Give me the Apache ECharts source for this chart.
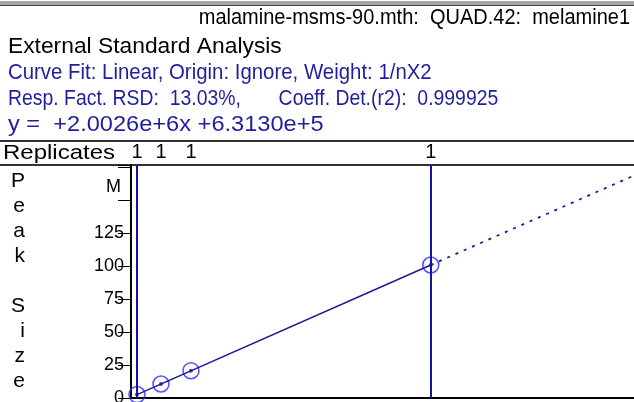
<!DOCTYPE html>
<html>
<head>
<meta charset="utf-8">
<script src="https://cdn.jsdelivr.net/npm/echarts@6/dist/echarts.min.js"></script>
<style>
  html, body { margin: 0; padding: 0; background: #fff; overflow: hidden; }
  #chart { width: 634px; height: 402px; }
</style>
</head>
<body>
<div id="chart"></div>
<script>
// calibration levels (amount) and peak size (M)
var levelX = [1, 5, 10, 50];
var levelY = [2.6, 10.6, 20.7, 100.8];
var replicates = ['1', '1', '1', '1'];
// fit line, solid over calibrated range, dashed beyond
var fitX = [1, 50];
var fitY = [2.6, 100.8];
var extX = [50, 83.9];
var extY = [100.8, 168.6];
var yTicks = [0, 25, 50, 75, 100, 125];

var headerLines = [
    'External Standard Analysis',
    'Curve Fit: Linear, Origin: Ignore, Weight: 1/nX2',
    'Resp. Fact. RSD:  13.03%,       Coeff. Det.(r2):  0.999925',
    'y =  +2.0026e+6x +6.3130e+5'
];
var headerColors = ['#000', '#1f1f9e', '#1f1f9e', '#1f1f9e'];
var headerStretch = [1.14, 1.02, 0.97, 1.18];

var FONT = '"Liberation Sans", Arial, sans-serif';
var navy = '#1a1a9c';

var chart = echarts.init(document.getElementById('chart'));

var graphics = [
    {type: 'rect', shape: {x: 0, y: 1, width: 634, height: 4}, style: {fill: '#a8a8a8'}},
    {type: 'line', shape: {x1: 0, y1: 5.5, x2: 634, y2: 5.5}, style: {stroke: '#444', lineWidth: 1}},
    {type: 'text', x: 630, y: 18, scaleY: 1.08, style: {text: 'malamine-msms-90.mth:  QUAD.42:  melamine1', font: '20px ' + FONT, fill: '#000', align: 'right', verticalAlign: 'middle'}},
    {type: 'line', shape: {x1: 0, y1: 141, x2: 634, y2: 141}, style: {stroke: '#333', lineWidth: 2}},
    {type: 'text', x: 3, y: 153, scaleX: 1.2, style: {text: 'Replicates', font: '20px ' + FONT, fill: '#000', verticalAlign: 'middle'}},
    {type: 'line', shape: {x1: 0, y1: 165, x2: 634, y2: 165}, style: {stroke: '#333', lineWidth: 2}},
    {type: 'text', x: 121, y: 187, style: {text: 'M', font: '18px ' + FONT, fill: '#000', align: 'right', verticalAlign: 'middle'}}
];
for (var i = 0; i < headerLines.length; i++) {
    graphics.push({type: 'text', x: 8, y: 47 + i * 26, scaleX: headerStretch[i], scaleY: 1.08, style: {
        text: headerLines[i], font: '20px ' + FONT, fill: headerColors[i], verticalAlign: 'middle'}});
}

var option = {
    animation: false,
    grid: {left: 131, right: 0, top: 165, bottom: 4, outerBoundsMode: 'none', containLabel: false},
    xAxis: [{
        type: 'value', min: 0, max: 83.9,
        axisLine: {lineStyle: {color: '#000', width: 2}},
        axisTick: {show: false}, axisLabel: {show: false}, splitLine: {show: false}
    }, {
        type: 'value', min: 0, max: 83.9, position: 'top',
        axisLine: {show: false}, axisTick: {show: false}, splitLine: {show: false},
        axisLabel: {
            customValues: levelX, margin: 3,
            fontFamily: FONT, fontSize: 20, color: '#000',
            formatter: function (v) { return replicates[levelX.indexOf(v)]; }
        }
    }],
    yAxis: {
        type: 'value', min: 0, max: 176.6, interval: 25,
        name: 'P\ne\na\nk\n\nS\ni\nz\ne', nameLocation: 'middle', nameRotate: 0, nameGap: 106,
        nameTextStyle: {fontFamily: FONT, fontSize: 21, lineHeight: 25, color: '#000', padding: [22, 0, 0, 0]},
        axisLine: {show: true, lineStyle: {color: '#000', width: 2}},
        axisTick: {length: 13, lineStyle: {color: '#000'}},
        axisLabel: {
            margin: 7, fontFamily: FONT, fontSize: 18, color: '#000',
            formatter: function (v) { return yTicks.indexOf(v) >= 0 ? String(v) : ''; }
        },
        splitLine: {show: false}
    },
    series: [{
        type: 'line', data: fitX.map(function (x, i) { return [x, fitY[i]]; }),
        symbol: 'none', lineStyle: {color: navy, width: 1.5},
        markLine: {
            symbol: 'none', silent: true, label: {show: false},
            lineStyle: {color: '#1212a8', width: 2, type: 'solid'},
            data: [{xAxis: levelX[0]}, {xAxis: levelX[levelX.length - 1]}]
        }
    }, {
        type: 'line', data: extX.map(function (x, i) { return [x, extY[i]]; }),
        symbol: 'none', lineStyle: {color: navy, width: 1.8, type: [3, 6]}
    }, {
        type: 'scatter', data: levelX.map(function (x, i) { return [x, levelY[i]]; }),
        symbol: 'circle', symbolSize: 16,
        itemStyle: {color: 'rgba(0,0,0,0)', borderColor: '#2a2aff', borderWidth: 1.6}
    }, {
        type: 'scatter', data: levelX.map(function (x, i) { return [x, levelY[i]]; }),
        symbol: 'circle', symbolSize: 4,
        itemStyle: {color: navy}
    }],
    graphic: graphics
};
chart.setOption(option);
</script>
</body>
</html>
